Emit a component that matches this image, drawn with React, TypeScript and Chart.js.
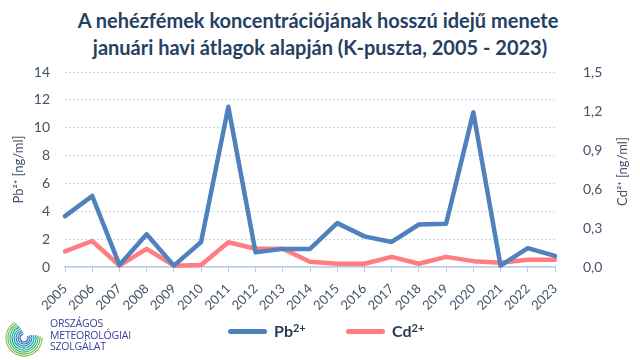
import React, { useEffect, useRef } from "react";
import { Chart, registerables } from "chart.js";

Chart.register(...registerables);

const years = ["2005","2006","2007","2008","2009","2010","2011","2012","2013","2014","2015","2016","2017","2018","2019","2020","2021","2022","2023"];
const pbValues = [3.65, 5.1, 0.15, 2.35, 0.1, 1.8, 11.5, 1.05, 1.3, 1.3, 3.15, 2.2, 1.8, 3.05, 3.1, 11.1, 0.1, 1.35, 0.8];
const cdValues = [0.12, 0.2, 0.01, 0.14, 0.01, 0.015, 0.19, 0.14, 0.14, 0.04, 0.025, 0.025, 0.078, 0.025, 0.078, 0.045, 0.033, 0.055, 0.055];

const TITLE_LINES = ["A nehézfémek koncentrációjának hosszú idejű menete", "januári havi átlagok alapján (K-puszta, 2005 - 2023)"];
const PB_LABEL = "Pb²⁺ [ng/ml]";
const CD_LABEL = "Cd²⁺ [ng/ml]";

const BLUE = "#4f81bd";
const RED = "#ff7c80";
const TEXT = "#44546a";
const FONT = "Lato, 'Open Sans', sans-serif";

const rightTitlePlugin = {
  id: "rightTitle",
  afterDraw(chart: any) {
    const { ctx, chartArea } = chart;
    ctx.save();
    ctx.translate(623, (chartArea.top + chartArea.bottom) / 2 + 2);
    ctx.rotate(-Math.PI / 2);
    ctx.font = `13px ${FONT}`;
    ctx.fillStyle = TEXT;
    ctx.textAlign = "center";
    ctx.textBaseline = "middle";
    ctx.fillText(CD_LABEL, 0, 0);
    ctx.restore();
  },
};

function Logo() {
  const radii = [4, 6, 8, 10, 12, 14, 16, 18];
  const colors = ["#2f5fb0", "#2a78b8", "#1f8fb8", "#14a3a0", "#1aae8f", "#3bb77a", "#62bd5e", "#8cc84b"];
  const cx = 24, cy = 338;
  const arcs = radii.map((r, i) => {
    const a0 = ((-30 + i * 4) * Math.PI) / 180;
    const a1 = ((260 - i * 3) * Math.PI) / 180;
    const x0 = cx + r * Math.cos(a0), y0 = cy + r * Math.sin(a0);
    const x1 = cx + r * Math.cos(a1), y1 = cy + r * Math.sin(a1);
    return (
      <path key={i} d={`M ${x0} ${y0} A ${r} ${r} 0 1 1 ${x1} ${y1}`} stroke={colors[i]} strokeWidth={1.2} fill="none" />
    );
  });
  return (
    <svg width={640} height={360} style={{ position: "absolute", left: 0, top: 0, pointerEvents: "none" }}>
      {arcs}
    </svg>
  );
}

export default function App() {
  const canvasRef = useRef<HTMLCanvasElement | null>(null);

  useEffect(() => {
    if (!canvasRef.current) return;
    const chart = new Chart(canvasRef.current, {
      type: "line",
      data: {
        labels: years,
        datasets: [
          {
            label: "Pb²⁺",
            data: pbValues,
            borderColor: BLUE,
            backgroundColor: BLUE,
            borderWidth: 4.5,
            pointRadius: 0,
            tension: 0,
            yAxisID: "y",
            clip: false as any,
            borderJoinStyle: "round",
            borderCapStyle: "round",
          },
          {
            label: "Cd²⁺",
            data: cdValues,
            borderColor: RED,
            backgroundColor: RED,
            borderWidth: 4.5,
            pointRadius: 0,
            tension: 0,
            yAxisID: "y1",
            clip: false as any,
            borderJoinStyle: "round",
            borderCapStyle: "round",
            order: 1,
          },
        ],
      },
      options: {
        responsive: false,
        animation: false,
        devicePixelRatio: 1,
        layout: { padding: { top: 72, left: 0, right: 0, bottom: 0 } },
        plugins: {
          legend: { display: false },
          title: { display: false },
          tooltip: { enabled: false },
        },
        scales: {
          x: {
            offset: false,
            grid: {
              display: true,
              drawOnChartArea: false,
              drawTicks: true,
              tickLength: 5,
              color: "#b9cde5",
            },
            border: { display: true, color: "#b9cde5", width: 1.5 },
            ticks: {
              color: TEXT,
              font: { family: FONT, size: 13 },
              maxRotation: 45,
              minRotation: 45,
              autoSkip: false,
              padding: 9,
            },
            afterFit: (s: any) => { s.height = 93; },
          },
          y: {
            position: "left",
            min: 0,
            max: 14,
            ticks: {
              stepSize: 2,
              color: TEXT,
              font: { family: FONT, size: 14 },
              padding: 15,
            },
            grid: {
              color: "#c6d8ee",
              drawTicks: false,
              lineWidth: 1,
            },
            border: { display: false, dash: [2, 2] },
            title: {
              display: true,
              text: PB_LABEL,
              color: TEXT,
              font: { family: FONT, size: 13 },
              padding: { top: 11, bottom: 0 },
            },
            afterFit: (s: any) => { s.width = 65; },
          },
          y1: {
            position: "right",
            min: 0,
            max: 1.5,
            ticks: {
              stepSize: 0.3,
              color: TEXT,
              font: { family: FONT, size: 14 },
              padding: 28,
              callback: (v: any) => Number(v).toFixed(1).replace(".", ","),
            },
            grid: { display: false, drawTicks: false },
            border: { display: false },
            afterFit: (s: any) => { s.width = 85; },
          },
        },
      },
      plugins: [rightTitlePlugin],
    });
    return () => chart.destroy();
  }, []);

  const legendText: React.CSSProperties = {
    position: "absolute",
    top: 321,
    fontFamily: FONT,
    fontWeight: 700,
    fontSize: 16,
    color: "#2a3a55",
    whiteSpace: "nowrap",
    lineHeight: "20px",
  };
  const legendLine: React.CSSProperties = {
    position: "absolute",
    top: 328.5,
    width: 39,
    height: 5,
    borderRadius: 3,
  };

  return (
    <div style={{ position: "fixed", left: 0, top: 0, width: 640, height: 360, background: "#ffffff", overflow: "hidden" }}>
      <div
        style={{
          position: "absolute",
          left: 0,
          top: 7,
          width: 640,
          textAlign: "center",
          fontFamily: FONT,
          fontWeight: 700,
          fontSize: 20,
          lineHeight: "27px",
          color: "#263f62",
        }}
      >
        <div style={{ position: "relative", left: -2 }}>{TITLE_LINES[0]}</div>
        <div>{TITLE_LINES[1]}</div>
      </div>
      <canvas ref={canvasRef} width={640} height={360} style={{ position: "absolute", left: 0, top: 0, width: 640, height: 360 }} />
      <div style={{ ...legendLine, left: 228, background: BLUE }} />
      <div style={{ ...legendText, left: 274 }}>
        Pb<sup style={{ fontSize: 11, verticalAlign: "top", position: "relative", top: -3 }}>2+</sup>
      </div>
      <div style={{ ...legendLine, left: 346, background: RED }} />
      <div style={{ ...legendText, left: 392 }}>
        Cd<sup style={{ fontSize: 11, verticalAlign: "top", position: "relative", top: -3 }}>2+</sup>
      </div>
      <Logo />
      <div
        style={{
          position: "absolute",
          left: 50,
          top: 318,
          fontFamily: "'Open Sans', sans-serif",
          fontSize: 10.5,
          lineHeight: "11.5px",
          color: "#3c3c9a",
          letterSpacing: -0.2,
        }}
      >
        <div>ORSZÁGOS</div>
        <div>METEOROLÓGIAI</div>
        <div>SZOLGÁLAT</div>
      </div>
    </div>
  );
}
